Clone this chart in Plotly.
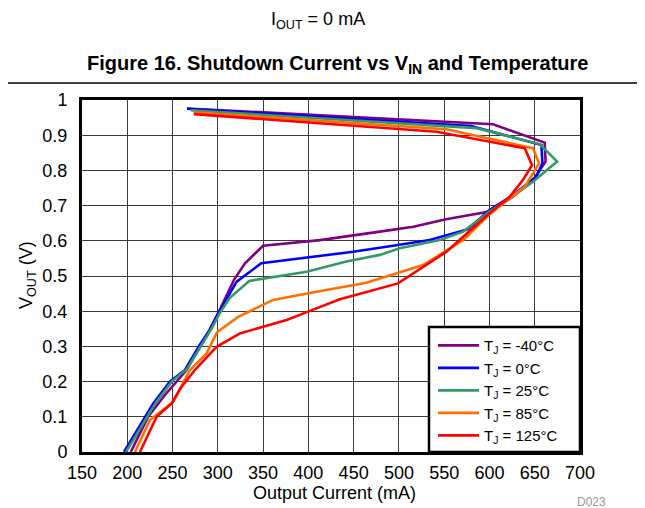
import plotly.graph_objects as go

series_names = ["T<sub>J</sub> = -40°C", "T<sub>J</sub> = 0°C", "T<sub>J</sub> = 25°C",
                "T<sub>J</sub> = 85°C", "T<sub>J</sub> = 125°C"]
series_colors = ["#800080", "#0000FF", "#339966", "#FF6F00", "#FF0000"]

i_m40 = [203.8, 223, 241.6, 265.5, 291, 302, 318, 330, 350, 413, 479, 516, 552, 600, 626, 650, 662, 661, 604, 266]
v_m40 = [0.0, 0.10, 0.162, 0.233, 0.347, 0.403, 0.49, 0.536, 0.586, 0.602, 0.626, 0.640, 0.661, 0.683, 0.725, 0.78, 0.825, 0.879, 0.931, 0.976]

i_0 = [196.4, 228.7, 247, 263.7, 280, 291, 300.5, 320.8, 348, 449.5, 499, 534, 576.4, 600, 626, 652, 658.5, 657.4, 580, 266]
v_0 = [0.0, 0.138, 0.2, 0.233, 0.304, 0.347, 0.394, 0.484, 0.536, 0.569, 0.588, 0.602, 0.633, 0.6875, 0.73, 0.782, 0.820, 0.872, 0.926, 0.975]

i_25 = [198.6, 231, 249, 266, 282, 293, 302, 313, 334.7, 398, 442, 479, 501, 545, 571, 600, 626, 648, 674.7, 656, 585.7, 270]
v_25 = [0.0, 0.138, 0.2, 0.236, 0.304, 0.35, 0.394, 0.4375, 0.486, 0.512, 0.541, 0.560, 0.579, 0.602, 0.626, 0.683, 0.727, 0.768, 0.825, 0.874, 0.920, 0.971]

i_85 = [208.5, 225, 250.8, 269.2, 287.6, 299, 322.5, 361, 400, 464, 526.7, 571, 600, 639, 654.8, 648, 552.5, 273]
v_85 = [0.0, 0.091, 0.143, 0.233, 0.28, 0.34, 0.384, 0.432, 0.451, 0.481, 0.531, 0.602, 0.675, 0.754, 0.820, 0.863, 0.917, 0.965]

i_125 = [214, 225, 232.4, 249, 260, 274.7, 291.3, 298.7, 324.4, 350, 376, 401.7, 434.8, 499, 552.5, 600, 622.4, 637, 647, 639, 541.5, 273.6]
v_125 = [0.0, 0.0625, 0.1, 0.138, 0.1855, 0.233, 0.28, 0.299, 0.337, 0.356, 0.375, 0.401, 0.434, 0.479, 0.569, 0.678, 0.725, 0.773, 0.815, 0.863, 0.910, 0.960]

x_ticks = [150, 200, 250, 300, 350, 400, 450, 500, 550, 600, 650, 700]
y_ticks = [0, 0.1, 0.2, 0.3, 0.4, 0.5, 0.6, 0.7, 0.8, 0.9, 1]
y_tick_text = ["0", "0.1", "0.2", "0.3", "0.4", "0.5", "0.6", "0.7", "0.8", "0.9", "1"]

xs = [i_m40, i_0, i_25, i_85, i_125]
ys = [v_m40, v_0, v_25, v_85, v_125]

fig = go.Figure()
for name, col, x, y in zip(series_names, series_colors, xs, ys):
    fig.add_trace(go.Scatter(x=x, y=y, mode="lines", name=name,
                             line=dict(color=col, width=2.6)))

FONT = "Liberation Sans, Arial, sans-serif"

# page has an 8px body margin; figure is sized so the plot area lands where the reference has it
fig.update_layout(
    width=637, height=500,
    margin=dict(l=74, r=65, t=92, b=56),
    paper_bgcolor="white", plot_bgcolor="white",
    font=dict(family=FONT, size=18, color="black"),
    showlegend=True,
    legend=dict(x=0.6968, y=0.349, xanchor="left", yanchor="top",
                borderwidth=0, bgcolor="rgba(0,0,0,0)",
                font=dict(size=15), itemwidth=41, indentation=4,
                tracegroupgap=0),
    xaxis=dict(range=[150, 700], tickvals=x_ticks, ticktext=[str(v) for v in x_ticks],
               showgrid=True, gridcolor="#3a3a3a", gridwidth=1,
               showline=True, linecolor="black", linewidth=3, mirror=True,
               ticks="", ticklabelstandoff=2, zeroline=False,
               tickfont=dict(size=18)),
    yaxis=dict(range=[0, 1], tickvals=y_ticks, ticktext=y_tick_text,
               showgrid=True, gridcolor="#3a3a3a", gridwidth=1,
               showline=True, linecolor="black", linewidth=3, mirror=True,
               ticks="", ticklabelstandoff=8, zeroline=False,
               tickfont=dict(size=18)),
)

# legend frame (white box with black border, drawn over the curves)
fig.add_shape(type="rect", xref="paper", yref="paper",
              x0=0.6968, x1=1.0, y0=0.0, y1=0.355,
              line=dict(color="black", width=2.5), fillcolor="white", layer="above")

fig.add_annotation(text="I<sub>OUT</sub> = 0 mA", xref="paper", yref="paper",
                   x=0.474, y=1.226, xanchor="center", yanchor="middle",
                   showarrow=False, font=dict(size=18))
fig.add_annotation(text="<b>Figure 16. Shutdown Current vs V<sub>IN</sub> and Temperature</b>",
                   xref="paper", yref="paper", x=0.514, y=1.102,
                   xanchor="center", yanchor="middle", showarrow=False,
                   font=dict(size=20))
fig.add_annotation(text="Output Current (mA)", xref="paper", yref="paper",
                   x=0.508, y=-0.1165, xanchor="center", yanchor="middle",
                   showarrow=False, font=dict(size=18))
fig.add_annotation(text="V<sub>OUT</sub> (V)", xref="paper", yref="paper",
                   x=-0.1084, y=0.503, xanchor="center", yanchor="middle",
                   textangle=-90, showarrow=False, font=dict(size=18))
fig.add_annotation(text="D023", xref="paper", yref="paper",
                   x=1.024, y=-0.142, xanchor="center", yanchor="middle",
                   showarrow=False, font=dict(size=12, color="#999999"))
fig.add_shape(type="line", xref="paper", yref="paper",
              x0=-0.1647, x1=1.1305, y0=1.048, y1=1.048,
              line=dict(color="black", width=1.5))

fig.write_html("out.html")
